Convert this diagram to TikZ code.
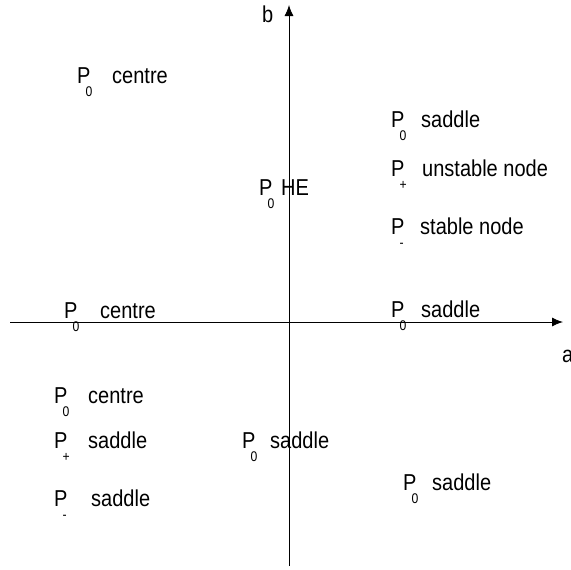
\documentclass[tikz,border=0pt]{standalone}
\usepackage{fontspec}
\setmainfont{Liberation Sans}[FakeStretch=0.87]
\usepackage{tikz}
\usetikzlibrary{arrows.meta}

\tikzset{
  lbl/.style={anchor=base west, inner sep=0pt, font=\fontsize{23}{27}\selectfont},
  sublbl/.style={anchor=base west, inner sep=0pt, font=\fontsize{14}{16}\selectfont},
  axis/.style={line width=0.9pt, -{Latex[length=11pt,width=9pt]}}
}

\begin{document}
\begin{tikzpicture}[x=1pt,y=-1pt]
    \useasboundingbox (0,0) rectangle (571,570);
    % axes
    \coordinate (aL) at (10,322);
    \coordinate (aR) at (563,322);
    \coordinate (bB) at (289,566);
    \coordinate (bT) at (289,5);
    \draw[axis] (aL) -- (aR);
    \draw[axis] (bB) -- (bT);
    \node[lbl] (alab) at (562,362) {a};
    \node[lbl] (blab) at (262,23) {b};
    % equilibria
    \foreach \n/\x/\y/\s/\lx/\t in {
        1/77/83/0/112/centre,
        2/259/195/0/281/HE,
        3/391/127/0/421/saddle,
        4/391/176/+/422/unstable node,
        5/391/234/-/420/stable node,
        6/391/317/0/421/saddle,
        7/64/318/0/100/centre,
        8/54/403/0/88/centre,
        9/54/448/+/88/saddle,
        10/54/506/-/91/saddle,
        11/242/448/0/270/saddle,
        12/403/490/0/432/saddle} {
        \node[lbl] (p\n) at (\x,\y) {P};
        \node[sublbl] (s\n) at (\x+8.5,\y+13) {\s};
        \node[lbl] (t\n) at (\lx,\y) {\t};
    }
\end{tikzpicture}
\end{document}
